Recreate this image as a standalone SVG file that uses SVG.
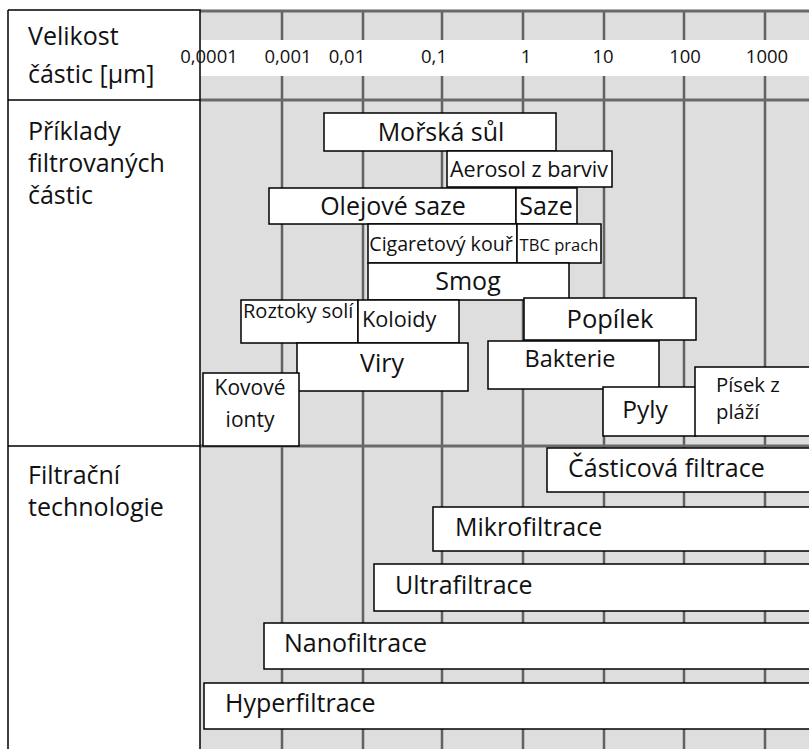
<svg xmlns="http://www.w3.org/2000/svg" width="809" height="749" viewBox="0 0 809 749">
<style>
.bx{fill:#fff;stroke:#000;stroke-width:1.5}
.gl{stroke:#626262;stroke-width:2.5;fill:none}
.hl{stroke:#6a6a6a;stroke-width:3;fill:none}
text{font-family:"Open Sans","Liberation Sans",sans-serif;fill:#111}
.L{font-size:25px}
.B{font-size:25px}
.lab{font-size:18.5px}
.mid{text-anchor:middle}
</style>
<rect x="0" y="0" width="809" height="749" fill="#fff"/>
<g id="grid">
<rect x="200" y="10" width="609" height="739" fill="#dedede"/>
<rect x="200" y="40" width="609" height="36" fill="#fff"/>
<path class="gl" d="M282 10V40M282 76V749M363 10V40M363 76V749M442 10V40M442 76V749M523 10V40M523 76V749M604 10V40M604 76V749M684 10V40M684 76V749M765 10V40M765 76V749"/>
<path class="hl" d="M200 11H809M200 100H809M200 446H809"/>
</g>
<g id="left-column">
<path d="M8 10H200V749M8 10V749M8 100H200M8 446H200" fill="none" stroke="#000" stroke-width="1.5"/>
<text class="L" x="28" y="45">Velikost</text>
<text class="L" x="28" y="83">částic [µm]</text>
<text class="L" x="28" y="140">Příklady</text>
<text class="L" x="28" y="172">filtrovaných</text>
<text class="L" x="28" y="204">částic</text>
<text class="L" x="28" y="484">Filtrační</text>
<text class="L" x="28" y="516">technologie</text>
</g>
<g id="scale">
<text class="lab mid" x="209" y="63">0,0001</text>
<text class="lab mid" x="288" y="63">0,001</text>
<text class="lab mid" x="347" y="63">0,01</text>
<text class="lab mid" x="434" y="63">0,1</text>
<text class="lab mid" x="526" y="63">1</text>
<text class="lab mid" x="603" y="63">10</text>
<text class="lab mid" x="685" y="63">100</text>
<text class="lab mid" x="767" y="63">1000</text>
</g>
<g id="morska-sul"><rect class="bx" x="324" y="113" width="232" height="38"/><text class="B mid" x="441" y="141">Mořská sůl</text></g>
<g id="aerosol"><rect class="bx" x="447" y="151" width="165" height="36"/><text class="mid" font-size="21.5" x="529" y="177">Aerosol z barviv</text></g>
<g id="olejove-saze"><rect class="bx" x="269" y="188" width="247" height="36"/><text class="B mid" x="393" y="215">Olejové saze</text></g>
<g id="saze"><rect class="bx" x="516" y="188" width="61" height="36"/><text class="mid" font-size="25" x="546" y="215">Saze</text></g>
<g id="cigaretovy-kour"><rect class="bx" x="368" y="224" width="149" height="39"/><text class="mid" font-size="19.6" x="441" y="251">Cigaretový kouř</text></g>
<g id="tbc-prach"><rect class="bx" x="517" y="224" width="84" height="39"/><text class="mid" font-size="16.6" x="559" y="251">TBC prach</text></g>
<g id="smog"><rect class="bx" x="368" y="263" width="201" height="37"/><text class="mid" font-size="25" x="468" y="290">Smog</text></g>
<g id="roztoky-soli"><rect class="bx" x="241" y="300" width="117" height="43"/><text font-size="20" x="243" y="318">Roztoky solí</text></g>
<g id="koloidy"><rect class="bx" x="358" y="300" width="101" height="43"/><text font-size="21.7" x="362" y="327">Koloidy</text></g>
<g id="popilek"><rect class="bx" x="524" y="298" width="172" height="42"/><text class="mid" font-size="25.5" x="610" y="328">Popílek</text></g>
<g id="viry"><rect class="bx" x="297" y="343" width="171" height="48"/><text class="mid" font-size="25" x="382" y="372">Viry</text></g>
<g id="bakterie"><rect class="bx" x="488" y="341" width="171" height="48"/><text class="mid" font-size="23.5" x="570" y="367">Bakterie</text></g>
<g id="kovove-ionty"><rect class="bx" x="203" y="373" width="96" height="73"/><text class="mid" font-size="21" x="250" y="395">Kovové</text><text class="mid" font-size="21" x="250" y="427">ionty</text></g>
<g id="pyly"><rect class="bx" x="603" y="387" width="93" height="49"/><text class="mid" font-size="24.5" x="645" y="418">Pyly</text></g>
<g id="pisek"><rect class="bx" x="695" y="367" width="120" height="69"/><text font-size="20.3" x="716" y="392">Písek z</text><text font-size="20.3" x="716" y="419">pláží</text></g>
<g id="castice-filtrace"><rect class="bx" x="547" y="448" width="270" height="44"/><text class="B" x="568" y="477">Částicová filtrace</text></g>
<g id="mikrofiltrace"><rect class="bx" x="433" y="507" width="384" height="44"/><text class="B" x="455" y="536">Mikrofiltrace</text></g>
<g id="ultrafiltrace"><rect class="bx" x="374" y="564" width="443" height="47"/><text class="B" x="395" y="594">Ultrafiltrace</text></g>
<g id="nanofiltrace"><rect class="bx" x="264" y="623" width="553" height="46"/><text class="B" x="284" y="652">Nanofiltrace</text></g>
<g id="hyperfiltrace"><rect class="bx" x="204" y="683" width="613" height="46"/><text class="B" x="225" y="712">Hyperfiltrace</text></g>
<g id="connectors"></g>
</svg>
